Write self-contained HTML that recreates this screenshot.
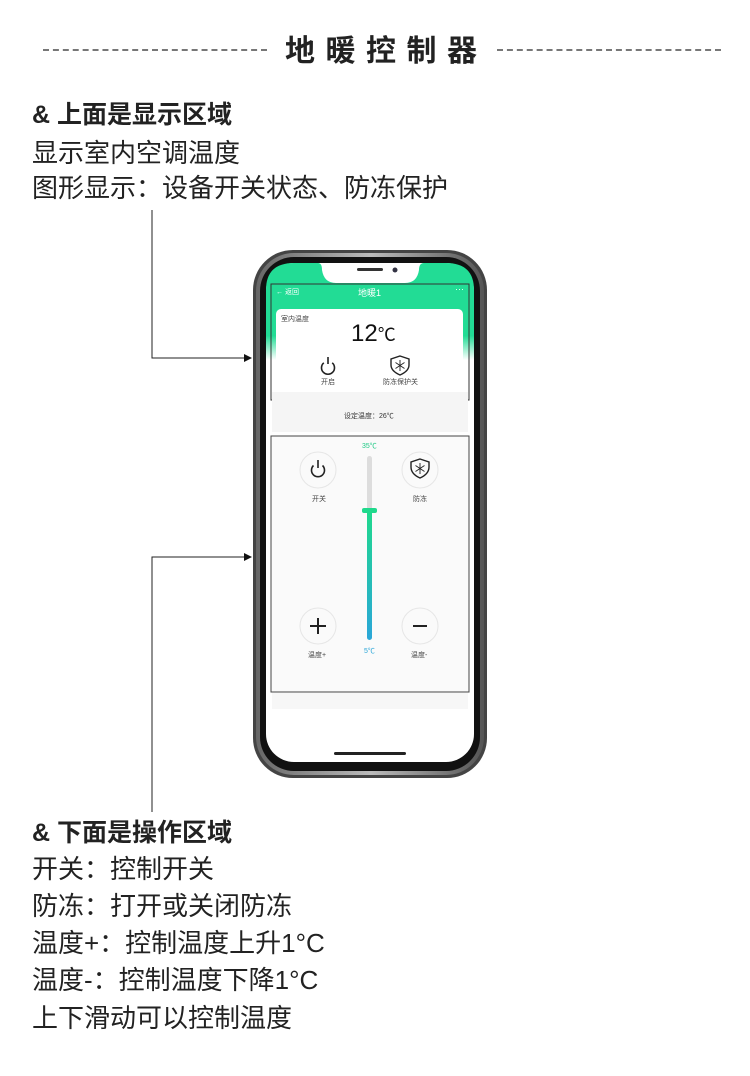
<!DOCTYPE html><html><head><meta charset="utf-8"><style>
body{margin:0;width:750px;height:1076px;background:#fff;position:relative;overflow:hidden;font-family:"Liberation Sans","Noto Sans CJK SC",sans-serif;color:#222}
.a{position:absolute;white-space:nowrap}
.t{font-size:26px;line-height:32px;left:32px}
.b{font-weight:bold}
.s{font-size:7px;color:#444}
</style></head><body>
<div class="a b" style="left:285px;top:32px;font-size:30px;letter-spacing:10.5px;line-height:40px">地暖控制器</div>
<div class="a" style="left:43px;top:49px;width:224px;border-top:2px dashed #777"></div>
<div class="a" style="left:497px;top:49px;width:224px;border-top:2px dashed #777"></div>
<div class="a t b" style="top:99px;font-size:25px">&amp; 上面是显示区域</div>
<div class="a t" style="top:137px">显示室内空调温度</div>
<div class="a t" style="top:172px">图形显示：设备开关状态、防冻保护</div>
<div class="a t b" style="top:817px;font-size:25px">&amp; 下面是操作区域</div>
<div class="a t" style="top:853px">开关：控制开关</div>
<div class="a t" style="top:890px">防冻：打开或关闭防冻</div>
<div class="a t" style="top:927px">温度+：控制温度上升1°C</div>
<div class="a t" style="top:964px">温度-：控制温度下降1°C</div>
<div class="a t" style="top:1002px">上下滑动可以控制温度</div>
<svg class="a" style="left:0;top:0" width="750" height="1076">
<defs><linearGradient id="g" x1="0" y1="0" x2="0" y2="1"><stop offset="0" stop-color="#1fd98c"/><stop offset="1" stop-color="#2aa6d8"/></linearGradient>
<linearGradient id="h" x1="0" y1="0" x2="0" y2="1"><stop offset="0.75" stop-color="#22dc95"/><stop offset="1" stop-color="#fff"/></linearGradient>
<linearGradient id="f" x1="0" y1="0" x2="1" y2="0"><stop offset="0" stop-color="#666"/><stop offset="0.5" stop-color="#bbb"/><stop offset="1" stop-color="#555"/></linearGradient></defs>
<path d="M152 210V358H244" fill="none" stroke="#222" stroke-width="1"/><path d="M244 354L252 358L244 362Z" fill="#111"/>
<path d="M152 812V557H244" fill="none" stroke="#222" stroke-width="1"/><path d="M244 553L252 557L244 561Z" fill="#111"/>
<rect x="253" y="250" width="234" height="528" rx="40" fill="#444"/>
<rect x="256" y="253" width="228" height="522" rx="38" fill="url(#f)"/>
<rect x="260" y="257" width="220" height="514" rx="34" fill="#111"/>
<rect x="266" y="263" width="208" height="499" rx="28" fill="#fff"/>
<path d="M266 290Q266 263 294 263H318Q322 263 322 270Q324 283 336 283H405Q417 283 419 270Q419 263 424 263H446Q474 263 474 290V360H266Z" fill="url(#h)"/>
<rect x="357" y="268" width="26" height="3" rx="1.5" fill="#333"/><circle cx="395" cy="270" r="2.5" fill="#334"/>
<rect x="271" y="284" width="198" height="116" fill="none" stroke="#333" stroke-width="1"/>
<rect x="276" y="309" width="187" height="81" rx="5" fill="#fff"/>
<rect x="272" y="392" width="196" height="40" fill="#f5f5f5"/>
<rect x="271" y="436" width="198" height="256" fill="#fafafa" stroke="#444" stroke-width="1"/>
<rect x="272" y="693" width="196" height="16" fill="#f7f7f7"/>
<rect x="334" y="752" width="72" height="3" rx="1.5" fill="#222"/>
<path d="M323.8 362.8A6.5 6.5 0 1 0 332.2 362.8M328 357v7" fill="none" stroke="#222" stroke-width="1.6"/>
<path d="M400 356l9 3v6q0 6-9 10q-9-4-9-10v-6z" fill="none" stroke="#222" stroke-width="1.4"/>
<path d="M400 360v11M395.5 362.5l9 6M395.5 368.5l9-6" stroke="#222" stroke-width="0.9"/>
<circle cx="318" cy="470" r="18" fill="#fafafa" stroke="#e6e6e6"/><circle cx="420" cy="470" r="18" fill="#fafafa" stroke="#e6e6e6"/>
<circle cx="318" cy="626" r="18" fill="#fafafa" stroke="#e6e6e6"/><circle cx="420" cy="626" r="18" fill="#fafafa" stroke="#e6e6e6"/>
<path d="M313.5 465.5A6.5 6.5 0 1 0 322.5 465.5M318 460v8" fill="none" stroke="#222" stroke-width="1.6"/>
<path d="M420 459l9 3v5q0 7-9 11q-9-4-9-11v-5z" fill="none" stroke="#222" stroke-width="1.4"/>
<path d="M420 463v11M415.5 465.5l9 6M415.5 471.5l9-6" stroke="#222" stroke-width="0.9"/>
<path d="M310 626h16M318 618v16M413 626h14" stroke="#222" stroke-width="2"/>
<rect x="367" y="456" width="5" height="55" rx="2.5" fill="#ddd"/>
<rect x="367" y="510" width="5" height="130" rx="2.5" fill="url(#g)"/>
<rect x="362" y="508" width="15" height="5" rx="2" fill="#1fd98c"/>
</svg>
<div class="a" style="left:276px;top:287px;font-size:7px;color:#fff">← 返回</div>
<div class="a" style="left:358px;top:286px;font-size:9px;color:#fff">地暖1</div>
<div class="a" style="left:455px;top:284px;font-size:9px;color:#fff">···</div>
<div class="a s" style="left:281px;top:314px">室内温度</div>
<div class="a" style="left:351px;top:320px;font-size:24px;color:#111">12<span style="font-size:18px">℃</span></div>
<div class="a s" style="left:321px;top:377px">开启</div>
<div class="a s" style="left:383px;top:377px">防冻保护关</div>
<div class="a s" style="left:344px;top:411px;color:#333">设定温度：26℃</div>
<div class="a s" style="left:362px;top:441px;color:#1fc985">35℃</div>
<div class="a s" style="left:312px;top:494px">开关</div>
<div class="a s" style="left:413px;top:494px">防冻</div>
<div class="a s" style="left:364px;top:646px;color:#2aa6d8">5℃</div>
<div class="a s" style="left:308px;top:650px">温度+</div>
<div class="a s" style="left:411px;top:650px">温度-</div>
</body></html>
